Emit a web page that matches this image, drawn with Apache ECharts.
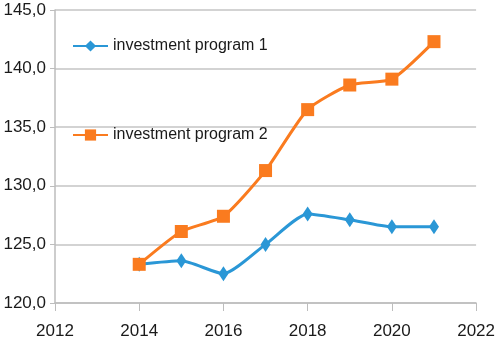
<!DOCTYPE html>
<html>
<head>
<meta charset="utf-8">
<script src="https://cdn.jsdelivr.net/npm/echarts@6/dist/echarts.min.js"></script>
<style>
  html, body { margin: 0; padding: 0; background: #fff; }
  #chart { width: 498px; height: 353px; }
</style>
</head>
<body>
<div id="chart"></div>
<script>
const years = [2014, 2015, 2016, 2017, 2018, 2019, 2020, 2021];
const program1 = [123.3, 123.6, 122.5, 125.0, 127.6, 127.1, 126.5, 126.5];
const program2 = [123.3, 126.1, 127.4, 131.3, 136.5, 138.6, 139.1, 142.3];
const seriesNames = ["investment program 1", "investment program 2"];

const chartInstance = echarts.init(document.getElementById("chart"));
const font = "'Liberation Sans', Arial, sans-serif";

const option = {
  animation: false,
  textStyle: { fontFamily: font },
  grid: { left: 55, right: 19, top: 10, bottom: 50 },
  legend: {
    orient: "vertical",
    left: 67,
    top: 33,
    itemGap: 73,
    itemWidth: 35,
    itemHeight: 14,
    textStyle: { fontSize: 16, color: "#1a1a1a", fontFamily: font },
    data: seriesNames,
  },
  xAxis: {
    type: "value",
    min: 2012,
    max: 2022,
    interval: 2,
    axisLine: { lineStyle: { color: "#bdbdbd", width: 1.5 } },
    axisTick: { show: true, length: 8, lineStyle: { color: "#bdbdbd" } },
    splitLine: { show: false },
    axisLabel: {
      fontSize: 17,
      color: "#1a1a1a",
      margin: 20,
      fontFamily: font,
      formatter: (v) => String(v),
    },
  },
  yAxis: {
    type: "value",
    min: 120,
    max: 145,
    interval: 5,
    axisLine: { show: true, lineStyle: { color: "#bdbdbd", width: 1.5 } },
    axisTick: { show: true, length: 5, lineStyle: { color: "#bdbdbd" } },
    splitLine: { lineStyle: { color: "#c4c4c4", width: 1.5 } },
    axisLabel: {
      fontSize: 17,
      color: "#1a1a1a",
      margin: 9,
      fontFamily: font,
      formatter: (v) => v.toFixed(1).replace(".", ","),
    },
  },
  series: [
    {
      name: seriesNames[0],
      type: "line",
      smooth: 0.2,
      symbol: "diamond",
      symbolSize: [10, 15],
      lineStyle: { width: 3, color: "#2a97d6" },
      itemStyle: { color: "#2a97d6" },
      data: years.map((y, i) => [y, program1[i]]),
    },
    {
      name: seriesNames[1],
      type: "line",
      smooth: 0.2,
      symbol: "rect",
      symbolSize: 13,
      lineStyle: { width: 3, color: "#fa7b1f" },
      itemStyle: { color: "#fa7b1f" },
      data: years.map((y, i) => [y, program2[i]]),
    },
  ],
};

chartInstance.setOption(option);
</script>
</body>
</html>
